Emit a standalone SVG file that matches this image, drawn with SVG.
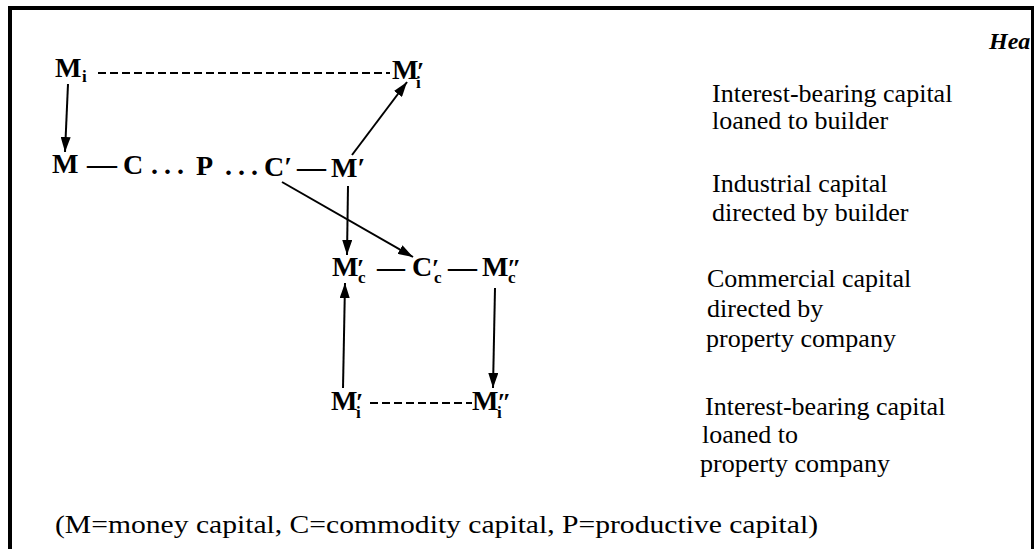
<svg xmlns="http://www.w3.org/2000/svg" width="1034" height="549" viewBox="0 0 1034 549">
<style>
.lbl{font-family:"Liberation Serif","Times New Roman",serif;font-size:28px;font-weight:bold;fill:#000}
.sub{font-size:17px}
.pr{font-size:26px}
.note{font-family:"Liberation Serif","Times New Roman",serif;font-size:26px;fill:#000}
.arr{stroke:#000;stroke-width:2;fill:none;marker-end:url(#ah)}
.dash{stroke:#000;stroke-width:2;fill:none;stroke-dasharray:8 4}
.frame{fill:#000}
</style>
<defs>
<marker id="ah" viewBox="0 0 15 10" refX="15" refY="5" markerWidth="15" markerHeight="10" orient="auto" markerUnits="userSpaceOnUse">
<path d="M0,0 L15,5 L0,10 z" fill="#000"/>
</marker>
</defs>
<rect width="1034" height="549" fill="#fff"/>
<text x="989" y="49" class="note" style="font-style:italic;font-weight:bold;font-size:24px">Hea</text>
<g id="frame">
<rect class="frame" x="8" y="6" width="4" height="543"/>
<rect class="frame" x="8" y="6" width="1026" height="4"/>
<rect class="frame" x="1031" y="6" width="3" height="543"/>
</g>
<g id="connectors">
<line class="dash" x1="98" y1="73" x2="390" y2="73"/>
<line class="dash" x1="370" y1="403" x2="472" y2="403"/>
<line class="arr" x1="68" y1="84" x2="65" y2="152"/>
<line class="arr" x1="352" y1="155" x2="407" y2="82"/>
<line class="arr" x1="282" y1="182" x2="413" y2="257"/>
<line class="arr" x1="348" y1="186" x2="347" y2="255"/>
<line class="arr" x1="343" y1="388" x2="345" y2="283"/>
<line class="arr" x1="495" y1="288" x2="493" y2="388"/>
</g>
<g id="node-Mi">
<text x="55" y="77" class="lbl">M<tspan class="sub" x="82" y="82">i</tspan></text>
</g>
<g id="node-Mi-prime">
<text x="392" y="79" class="lbl">M<tspan class="pr" x="417" y="80">′</tspan><tspan class="sub" x="416" y="88">i</tspan></text>
</g>
<g id="node-row1">
<text x="52" y="173" class="lbl">M<tspan x="87" y="173" textLength="30" lengthAdjust="spacingAndGlyphs">—</tspan><tspan x="123" y="174">C</tspan><tspan x="151" y="174">.</tspan><tspan x="164" y="174">.</tspan><tspan x="177" y="174">.</tspan><tspan x="196" y="175">P</tspan><tspan x="225" y="175">.</tspan><tspan x="238" y="175">.</tspan><tspan x="251" y="175">.</tspan><tspan x="264" y="176">C′</tspan><tspan x="297" y="176" textLength="29" lengthAdjust="spacingAndGlyphs">—</tspan><tspan x="331" y="177">M′</tspan></text>
</g>
<g id="node-row2">
<text x="332" y="276" class="lbl">M<tspan class="pr" x="357" y="277">′</tspan><tspan class="sub" x="358" y="283">c</tspan><tspan x="377" y="276" textLength="28" lengthAdjust="spacingAndGlyphs">—</tspan><tspan x="412" y="276">C</tspan><tspan class="pr" x="432" y="277">′</tspan><tspan class="sub" x="434" y="283">c</tspan><tspan x="448" y="276" textLength="29" lengthAdjust="spacingAndGlyphs">—</tspan><tspan x="482" y="276">M</tspan><tspan class="pr" x="507" y="277">″</tspan><tspan class="sub" x="508" y="283">c</tspan></text>
</g>
<g id="node-row3">
<text x="331" y="410" class="lbl">M<tspan class="pr" x="356" y="411">′</tspan><tspan class="sub" x="356" y="418">i</tspan></text>
<text x="472" y="410" class="lbl">M<tspan class="pr" x="497" y="411">″</tspan><tspan class="sub" x="497" y="418">i</tspan></text>
</g>
<g id="note-1">
<text x="712" y="102" class="note">Interest-bearing capital</text>
<text x="712" y="129" class="note">loaned to builder</text>
</g>
<g id="note-2">
<text x="712" y="192" class="note">Industrial capital</text>
<text x="712" y="221" class="note">directed by builder</text>
</g>
<g id="note-3">
<text x="707" y="287" class="note">Commercial capital</text>
<text x="707" y="317" class="note">directed by</text>
<text x="706" y="347" class="note">property company</text>
</g>
<g id="note-4">
<text x="705" y="415" class="note">Interest-bearing capital</text>
<text x="702" y="443" class="note">loaned to</text>
<text x="700" y="472" class="note">property company</text>
</g>
<g id="legend">
<text x="55" y="533" class="note" textLength="763" lengthAdjust="spacingAndGlyphs">(M=money capital, C=commodity capital, P=productive capital)</text>
</g>
</svg>
